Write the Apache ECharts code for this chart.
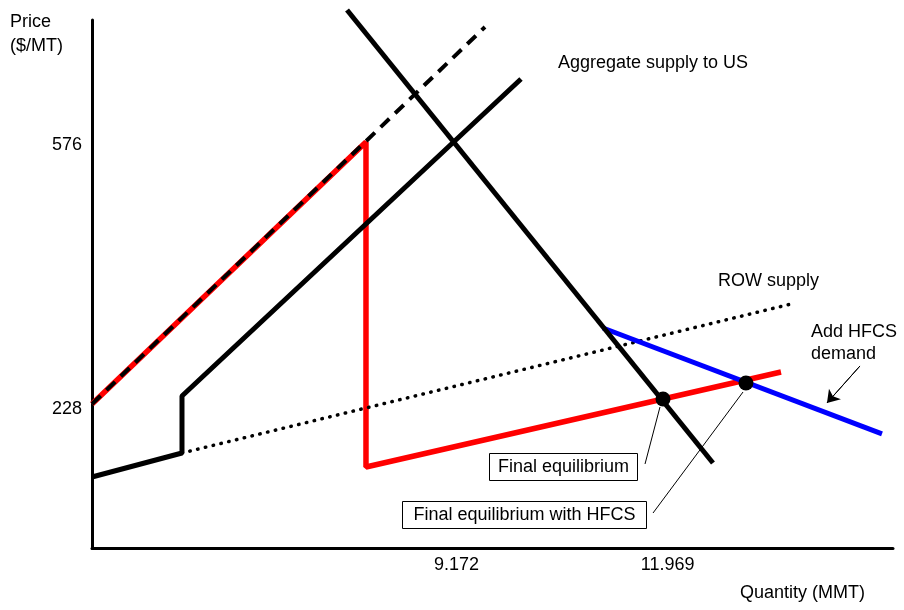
<!DOCTYPE html>
<html>
<head>
<meta charset="utf-8">
<script src="https://cdn.jsdelivr.net/npm/echarts@6/dist/echarts.min.js"></script>
<style>
html,body{margin:0;padding:0;background:#fff;}
#chart{width:904px;height:610px;}
</style>
</head>
<body>
<div id="chart"></div>
<script>
// Tick labels
const xTickValues = [9.172, 11.969];
const xTickLabels = ['9.172', '11.969'];
const yTickValues = [228, 576];
const yTickLabels = ['228', '576'];

// Curves (quantity MMT, price $/MT)
const usDemand = [[7.722, 754.0], [12.569, 156.8]];
const supplyDashed = [[4.344, 234.6], [9.549, 731.5]];
const redSupply = [[4.344, 234.6], [7.973, 580.0], [7.973, 151.5], [13.470, 276.8]];
const aggregateSupply = [[4.344, 138.4], [5.536, 170.0], [5.536, 245.1], [10.026, 663.0]];
const rowSupply = [[5.536, 170.0], [13.655, 367.7]];
const hfcsDemand = [[11.112, 334.8], [14.808, 195.1]];
const equilibria = [[11.907, 241.2], [13.006, 262.3]];
const leaderFinal = [[11.867, 230.6], [11.669, 155.5]];
const leaderHFCS = [[12.967, 250.4], [11.775, 90.9]];
const hfcsArrow = [[14.516, 284.7], [14.079, 235.9]];

const FONT = 'Liberation Sans, Arial, sans-serif';
const chart = echarts.init(document.getElementById('chart'), null, {renderer: 'canvas'});

function lineSeries(data, color, width, type, z, extra) {
  return Object.assign({
    type: 'line', data: data, symbol: 'none', z: z, clip: false,
    lineStyle: {color: color, width: width, type: type},
    emphasis: {disabled: true}, silent: true
  }, extra || {});
}

function txt(text, x, y, align) {
  return {type: 'text', x: x, y: y, z: 100,
    style: {text: text, fontSize: 18, fontFamily: FONT, fill: '#000', align: align || 'left', verticalAlign: 'middle'}};
}
function box(text, x, y, w, h) {
  return {type: 'group', z: 100, children: [
    {type: 'rect', shape: {x: x + 0.5, y: y + 0.5, width: w, height: h}, style: {fill: '#fff', stroke: '#000', lineWidth: 1}},
    {type: 'text', x: x + w / 2 + 0.5, y: y + h / 2 + 1, style: {text: text, fontSize: 18, fontFamily: FONT, fill: '#000', align: 'center', verticalAlign: 'middle'}}
  ]};
}

const option = {
  animation: false,
  backgroundColor: '#fff',
  grid: {left: 92, top: 20, right: 11, bottom: 61.5},
  xAxis: {
    type: 'value', min: 4.344, max: 14.9535,
    axisLine: {onZero: false, lineStyle: {color: '#000', width: 3}},
    axisTick: {show: false},
    splitLine: {show: false},
    axisLabel: {
      customValues: xTickValues, margin: 8, color: '#000', fontSize: 18, fontFamily: FONT,
      formatter: function (v) { const i = xTickValues.findIndex(t => Math.abs(t - v) < 1e-6); return i >= 0 ? xTickLabels[i] : ''; }
    }
  },
  yAxis: {
    type: 'value', min: 44.11, max: 740.77,
    axisLine: {onZero: false, lineStyle: {color: '#000', width: 3}},
    axisTick: {show: false},
    splitLine: {show: false},
    axisLabel: {
      customValues: yTickValues, margin: 10, color: '#000', fontSize: 18, fontFamily: FONT,
      formatter: function (v) { const i = yTickValues.findIndex(t => Math.abs(t - v) < 1e-6); return i >= 0 ? yTickLabels[i] : ''; }
    }
  },
  series: [
    lineSeries(redSupply, '#ff0000', 5.5, 'solid', 2),
    lineSeries(rowSupply, '#000', 3.5, [1, 7], 2, {lineStyle: {color: '#000', width: 3.5, type: [0.5, 7.5], cap: 'round'}}),
    lineSeries(hfcsDemand, '#0000ff', 5, 'solid', 3),
    lineSeries(usDemand, '#000', 5, 'solid', 4),
    lineSeries(aggregateSupply, '#000', 5, 'solid', 4),
    lineSeries(supplyDashed, '#000', 4, [12, 8], 5),
    lineSeries(leaderFinal, '#000', 1, 'solid', 5),
    lineSeries(leaderHFCS, '#000', 1, 'solid', 5),
    lineSeries(hfcsArrow, '#000', 1, 'solid', 5, {
      markLine: {
        silent: true, symbol: ['none', 'arrow'], symbolSize: 12,
        label: {show: false}, emphasis: {disabled: true},
        lineStyle: {color: '#000', width: 1, type: 'solid', opacity: 1},
        itemStyle: {color: '#000'},
        data: [[{coord: hfcsArrow[0]}, {coord: hfcsArrow[1]}]]
      }
    }),
    {type: 'scatter', data: equilibria, symbol: 'circle', symbolSize: 15, z: 6, silent: true,
      itemStyle: {color: '#000', opacity: 1}}
  ],
  graphic: [
    txt('Price', 10, 22),
    txt('($/MT)', 10, 46),
    txt('Aggregate supply to US', 558, 63),
    txt('ROW supply', 718, 281),
    txt('Add HFCS', 811, 332),
    txt('demand', 811, 354),
    txt('Quantity (MMT)', 740, 593),
    box('Final equilibrium', 489, 453, 148, 27),
    box('Final equilibrium with HFCS', 402, 501, 244, 27)
  ]
};
chart.setOption(option);
</script>
</body>
</html>
